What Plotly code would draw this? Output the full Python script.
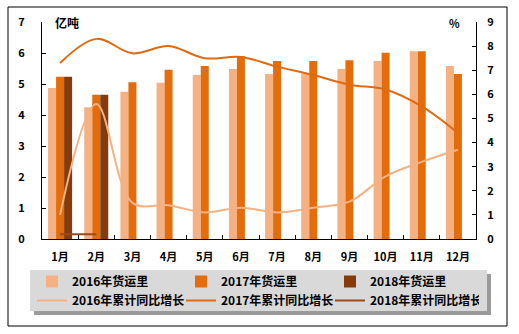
import plotly.graph_objects as go

months = ["1月", "2月", "3月", "4月", "5月", "6月", "7月", "8月", "9月", "10月", "11月", "12月"]
vol_2016 = [4.87, 4.25, 4.75, 5.04, 5.29, 5.48, 5.32, 5.35, 5.48, 5.74, 6.06, 5.58]
vol_2017 = [5.23, 4.65, 5.06, 5.46, 5.58, 5.90, 5.74, 5.74, 5.77, 6.01, 6.06, 5.32]
vol_2018 = [5.23, 4.65, None, None, None, None, None, None, None, None, None, None]
grow_2016 = [1.0, 5.6, 1.5, 1.4, 1.1, 1.3, 1.1, 1.3, 1.55, 2.6, 3.2, 3.7]
grow_2017 = [7.3, 8.3, 7.7, 8.0, 7.5, 7.55, 7.15, 6.8, 6.4, 6.2, 5.5, 4.4]
grow_2018 = [0.2, 0.2, None, None, None, None, None, None, None, None, None, None]

C16, C17, C18 = "#F4B183", "#E46C0A", "#843C0C"
FONT = "Noto Sans CJK SC"

fig = go.Figure()
fig.add_bar(x=months, y=vol_2016, name="2016年货运里", marker=dict(color=C16, line_width=0))
fig.add_bar(x=months, y=vol_2017, name="2017年货运里", marker=dict(color=C17, line_width=0))
fig.add_bar(x=months, y=vol_2018, name="2018年货运里", marker=dict(color=C18, line_width=0))
fig.add_scatter(x=months, y=grow_2016, name="2016年累计同比增长", yaxis="y2", mode="lines",
                line=dict(color="#F4B183", width=2, shape="spline", smoothing=1))
fig.add_scatter(x=months, y=grow_2017, name="2017年累计同比增长", yaxis="y2", mode="lines",
                line=dict(color="#E06A10", width=2, shape="spline", smoothing=1))
fig.add_scatter(x=months, y=grow_2018, name="2018年累计同比增长", yaxis="y2", mode="lines",
                line=dict(color="#9A4A1C", width=2))

tickfont = dict(family=FONT, size=11, color="black", weight="bold")

def px(x):
    return (x - 42) / 434

def py(y):
    return (239 - y) / 217

fig.update_layout(
    width=519, height=334,
    margin=dict(l=42, r=43, t=22, b=95, autoexpand=False),
    paper_bgcolor="white", plot_bgcolor="white",
    barmode="group", bargap=0.336, bargroupgap=0,
    font=dict(family=FONT, color="black"),
    xaxis=dict(showline=True, linecolor="black", linewidth=1, ticks="inside", ticklen=4,
               tickcolor="black", tickson="boundaries", tickfont=tickfont, showgrid=False,
               ticklabelstandoff=8),
    yaxis=dict(range=[0, 7], dtick=1, showline=True, linecolor="black", linewidth=1,
               ticks="inside", ticklen=4, tickcolor="black", tickfont=tickfont,
               showgrid=False, zeroline=False, ticklabelstandoff=14),
    yaxis2=dict(range=[0, 9], dtick=1, overlaying="y", side="right", showline=True,
                linecolor="black", linewidth=1, ticks="inside", ticklen=4, tickcolor="black",
                tickfont=tickfont, showgrid=False, zeroline=False, ticklabelstandoff=8),
    legend=dict(orientation="h", x=px(32), y=py(267), xanchor="left", yanchor="top",
                bgcolor="rgba(0,0,0,0)", entrywidth=104, entrywidthmode="pixels",
                font=dict(family=FONT, size=12, color="black", weight="bold"),
                tracegroupgap=0, itemwidth=30),
    showlegend=True,
)

shapes = [
    # outer border
    dict(type="rect", xref="paper", yref="paper", x0=px(8), x1=px(507), y0=py(326), y1=py(7),
         line=dict(color="black", width=1), fillcolor="rgba(0,0,0,0)", layer="below"),
    # legend shadow
    dict(type="rect", xref="paper", yref="paper", x0=px(34), x1=px(491), y0=py(315), y1=py(274),
         line=dict(width=0), fillcolor="#9a9a9a", layer="below"),
    # legend background
    dict(type="rect", xref="paper", yref="paper", x0=px(30), x1=px(487), y0=py(311), y1=py(270),
         line=dict(width=0), fillcolor="#D9D9D9", layer="below"),
]
fig.update_layout(shapes=shapes)

fig.add_annotation(text="亿吨", xref="paper", yref="paper", x=px(53), y=py(23), xanchor="left",
                   yanchor="middle", showarrow=False,
                   font=dict(family=FONT, size=12, color="black", weight="bold"))
fig.add_annotation(text="%", xref="paper", yref="paper", x=px(462), y=py(23), xanchor="right",
                   yanchor="middle", showarrow=False,
                   font=dict(family=FONT, size=11, color="black", weight="bold"))

fig.write_html("out.html")
